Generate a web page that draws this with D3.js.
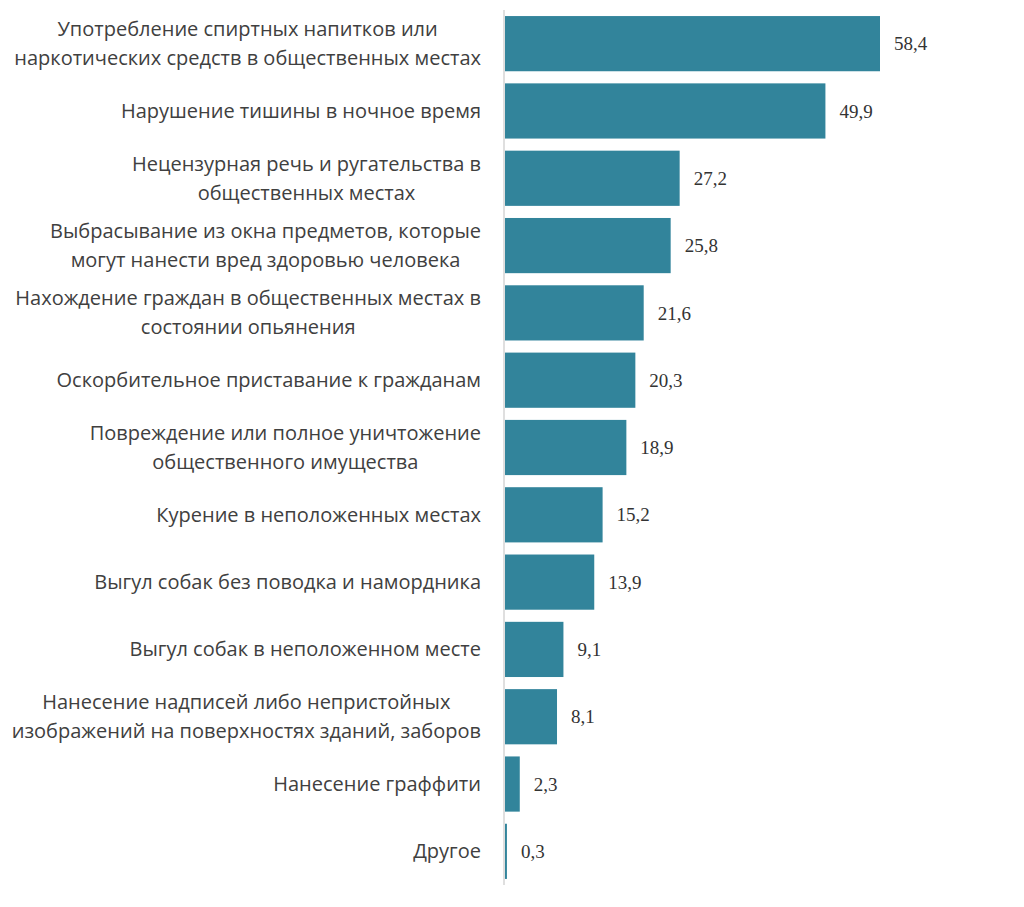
<!DOCTYPE html>
<html>
<head>
<meta charset="utf-8">
<script src="https://cdn.jsdelivr.net/npm/d3@7"></script>
<style>
  body { margin: 0; background: #fff; }
</style>
</head>
<body>
<script>
// категории (переносы строк как в оригинале)
var categories = [
    "Употребление спиртных напитков или\nнаркотических средств в общественных местах",
    "Нарушение тишины в ночное время",
    "Нецензурная речь и ругательства в\nобщественных местах",
    "Выбрасывание из окна предметов, которые\nмогут нанести вред здоровью человека",
    "Нахождение граждан в общественных местах в\nсостоянии опьянения",
    "Оскорбительное приставание к гражданам",
    "Повреждение или полное уничтожение\nобщественного имущества",
    "Курение в неположенных местах",
    "Выгул собак без поводка и намордника",
    "Выгул собак в неположенном месте",
    "Нанесение надписей либо непристойных\nизображений на поверхностях зданий, заборов",
    "Нанесение граффити",
    "Другое"
];
var values = [58.4, 49.9, 27.2, 25.8, 21.6, 20.3, 18.9, 15.2, 13.9, 9.1, 8.1, 2.3, 0.3];

var width = 1024, height = 907;
var margin = {top: 10, right: 60, bottom: 22, left: 504};

var svg = d3.select("body").append("svg")
    .attr("width", width)
    .attr("height", height);

var x = d3.scaleLinear()
    .domain([0, 58.4])
    .range([margin.left + 1, 880]);

var y = d3.scaleBand()
    .domain(d3.range(categories.length))
    .range([margin.top, height - margin.bottom])
    .paddingInner(0.18)
    .paddingOuter(0.09);

// бары
svg.append("g")
    .selectAll("rect")
    .data(values)
    .join("rect")
    .attr("x", x(0))
    .attr("y", function(d, i) { return y(i); })
    .attr("width", function(d) { return x(d) - x(0); })
    .attr("height", y.bandwidth())
    .attr("fill", "#32849b");

// ось
svg.append("line")
    .attr("x1", margin.left).attr("x2", margin.left)
    .attr("y1", margin.top).attr("y2", height - margin.bottom)
    .attr("stroke", "#d4d4d4")
    .attr("stroke-width", 1.5);

// подписи категорий: блок прижат вправо, строки по центру блока
var labels = svg.append("g")
    .attr("font-family", "'Open Sans', sans-serif")
    .attr("font-size", "20px")
    .attr("fill", "#404040")
    .attr("text-anchor", "middle");

var right = margin.left - 23, lh = 29;
categories.forEach(function(c, i) {
    var lines = c.split("\n");
    var cy = y(i) + y.bandwidth() / 2;
    var t = labels.append("text")
        .attr("y", cy - (lines.length - 1) * lh / 2);
    var spans = lines.map(function(l, k) {
        return t.append("tspan")
            .attr("dy", k === 0 ? "0.35em" : lh)
            .text(l);
    });
    var w = d3.max(spans, function(s) { return s.node().getComputedTextLength(); });
    spans.forEach(function(s) { s.attr("x", right - w / 2); });
});

// значения
svg.append("g")
    .selectAll("text")
    .data(values)
    .join("text")
    .attr("x", function(d) { return x(d) + 14; })
    .attr("y", function(d, i) { return y(i) + y.bandwidth() / 2; })
    .attr("dy", "0.35em")
    .attr("font-family", "'Liberation Serif', 'Times New Roman', serif")
    .attr("font-size", "19px")
    .attr("fill", "#333")
    .text(function(d) { return d3.format(".1f")(d).replace(".", ","); });
</script>
</body>
</html>
